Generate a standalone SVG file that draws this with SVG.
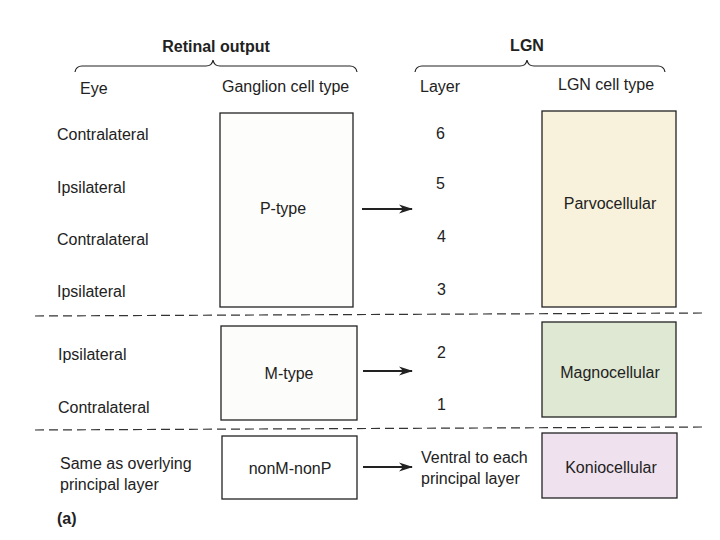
<svg xmlns="http://www.w3.org/2000/svg" width="720" height="540" viewBox="0 0 720 540">
<defs>
<style>
text{font-family:"Liberation Sans",Arial,sans-serif;font-size:16px;fill:#222}
.b{font-weight:bold}
.m{text-anchor:middle}
.box{stroke:#222;stroke-width:1.3}
.brace{fill:none;stroke:#222;stroke-width:1.2}
.dash{stroke:#333;stroke-width:1.2;stroke-dasharray:9,5;fill:none}
.arr{stroke:#222;stroke-width:2;fill:none}
</style>
<marker id="ah" viewBox="0 0 14 10" refX="13" refY="5" markerWidth="14" markerHeight="10" markerUnits="userSpaceOnUse" orient="auto">
<path d="M0,0.5 L14,5 L0,9.5 L4,5 Z" fill="#222"/>
</marker>
</defs>
<rect width="720" height="540" fill="#fff"/>
<g id="headers">
<text class="b m" x="216" y="52">Retinal output</text>
<path class="brace" d="M75,72 Q76,66 82,66 L206,66 Q212,66 213,60 Q214,66 220,66 L350,66 Q356,66 357,72"/>
<text class="b m" x="527" y="51">LGN</text>
<path class="brace" d="M415,72 Q416,66 422,66 L520,66 Q526,66 527,60 Q528,66 534,66 L658,66 Q664,66 665,72"/>
<text x="80" y="94">Eye</text>
<text x="222" y="92">Ganglion cell type</text>
<text x="420" y="92">Layer</text>
<text x="558" y="90">LGN cell type</text>
</g>
<g id="eye-labels">
<text x="57" y="140">Contralateral</text>
<text x="57" y="193">Ipsilateral</text>
<text x="57" y="245">Contralateral</text>
<text x="57" y="297">Ipsilateral</text>
<text x="58" y="360">Ipsilateral</text>
<text x="58" y="413">Contralateral</text>
<text x="60" y="469">Same as overlying</text>
<text x="60" y="490">principal layer</text>
<text class="b" x="57" y="524">(a)</text>
</g>
<g id="layer-labels">
<text x="436" y="139">6</text>
<text x="436" y="189">5</text>
<text x="437" y="242">4</text>
<text x="437" y="295">3</text>
<text x="437" y="358">2</text>
<text x="437" y="410">1</text>
<text x="421" y="463">Ventral to each</text>
<text x="421" y="484">principal layer</text>
</g>
<g id="p-type">
<rect class="box" x="220" y="113" width="133" height="194" fill="#fdfdfb"/>
<text class="m" x="283" y="214">P-type</text>
</g>
<g id="m-type">
<rect class="box" x="221" y="326" width="136" height="94" fill="#fcfcfa"/>
<text class="m" x="289" y="379">M-type</text>
</g>
<g id="nonm-nonp">
<rect class="box" x="222" y="436" width="135" height="63" fill="#fff"/>
<text class="m" x="290" y="474">nonM-nonP</text>
</g>
<g id="parvocellular">
<rect class="box" x="542" y="111" width="134" height="196" fill="#f8f1dc"/>
<text class="m" x="610" y="209">Parvocellular</text>
</g>
<g id="magnocellular">
<rect class="box" x="542" y="322" width="134" height="95" fill="#dfe8d3"/>
<text class="m" x="610" y="378">Magnocellular</text>
</g>
<g id="koniocellular">
<rect class="box" x="542" y="433" width="135" height="65" fill="#f0e1ef"/>
<text class="m" x="611" y="473">Koniocellular</text>
</g>
<g id="connectors">
<line class="arr" x1="362" y1="209" x2="412" y2="209" marker-end="url(#ah)"/>
<line class="arr" x1="363" y1="371" x2="412" y2="371" marker-end="url(#ah)"/>
<line class="arr" x1="363" y1="467" x2="412" y2="467" marker-end="url(#ah)"/>
<line class="dash" x1="35" y1="316" x2="705" y2="313"/>
<line class="dash" x1="35" y1="430" x2="705" y2="427"/>
</g>
</svg>
